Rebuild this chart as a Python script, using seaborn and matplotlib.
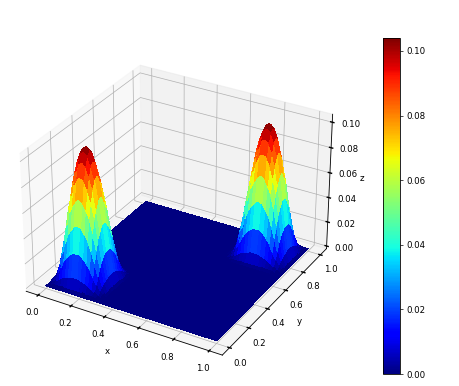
import numpy as np
import matplotlib
matplotlib.use("Agg")
import matplotlib.pyplot as plt
import seaborn as sns

# grid of the surface
n_points = 53
x_values = np.linspace(0, 1, n_points)
y_values = np.linspace(0, 1, n_points)

# height of one bump, in thousandths of z
bump_heights = [
    [0, 0, 1, 1, 1, 2, 2, 2, 2, 2, 2, 2, 1, 1, 1, 0, 0],
    [0, 1, 3, 5, 7, 8, 9, 10, 10, 10, 9, 8, 7, 5, 3, 1, 0],
    [1, 3, 8, 13, 19, 23, 26, 28, 28, 28, 26, 23, 19, 13, 8, 3, 1],
    [1, 5, 13, 23, 32, 40, 44, 48, 49, 48, 44, 40, 32, 23, 13, 5, 1],
    [1, 7, 19, 32, 45, 56, 62, 67, 69, 67, 62, 56, 45, 32, 19, 7, 1],
    [2, 8, 23, 40, 56, 68, 77, 83, 84, 83, 77, 68, 56, 40, 23, 8, 2],
    [2, 9, 26, 44, 62, 77, 86, 93, 95, 93, 86, 77, 62, 44, 26, 9, 2],
    [2, 10, 28, 48, 67, 83, 93, 100, 102, 100, 93, 83, 67, 48, 28, 10, 2],
    [2, 10, 28, 49, 69, 84, 95, 102, 104, 102, 95, 84, 69, 49, 28, 10, 2],
    [2, 10, 28, 48, 67, 83, 93, 100, 102, 100, 93, 83, 67, 48, 28, 10, 2],
    [2, 9, 26, 44, 62, 77, 86, 93, 95, 93, 86, 77, 62, 44, 26, 9, 2],
    [2, 8, 23, 40, 56, 68, 77, 83, 84, 83, 77, 68, 56, 40, 23, 8, 2],
    [1, 7, 19, 32, 45, 56, 62, 67, 69, 67, 62, 56, 45, 32, 19, 7, 1],
    [1, 5, 13, 23, 32, 40, 44, 48, 49, 48, 44, 40, 32, 23, 13, 5, 1],
    [1, 3, 8, 13, 19, 23, 26, 28, 28, 28, 26, 23, 19, 13, 8, 3, 1],
    [0, 1, 3, 5, 7, 8, 9, 10, 10, 10, 9, 8, 7, 5, 3, 1, 0],
    [0, 0, 1, 1, 1, 2, 2, 2, 2, 2, 2, 2, 1, 1, 1, 0, 0],
]

axis_ticks = [0.0, 0.2, 0.4, 0.6, 0.8, 1.0]
z_ticks = [0.00, 0.02, 0.04, 0.06, 0.08, 0.10]

sns.set_context("paper", rc={"xtick.labelsize": 6.2, "ytick.labelsize": 6.2, "axes.labelsize": 6.2})

bump = np.array(bump_heights) / 1000
size = bump.shape[0]
Z = np.zeros((n_points, n_points))
Z[1:size + 1, :size] = bump
Z[-size:, -size - 1:-1] = bump
X, Y = np.meshgrid(x_values, y_values)

fig = plt.figure(figsize=(4.59, 3.86), dpi=100)
ax = fig.add_axes([0.0, 0.002, 0.76, 0.92], projection="3d")
ax.set_box_aspect((4, 4, 2.8), zoom=0.985)
surf = ax.plot_surface(X, Y, Z, cmap="jet", rstride=1, cstride=1, linewidth=0,
                       antialiased=False, vmin=0, vmax=Z.max())

ax.set_xticks(axis_ticks)
ax.set_yticks(axis_ticks)
ax.set_zticks(z_ticks)
ax.set_xlabel("x", labelpad=-5.5)
ax.set_ylabel("y", labelpad=-6)
ax.set_zlabel("z", labelpad=-6.5)
ax.tick_params(axis="both", pad=-1, width=0.5, length=2)
ax.tick_params(axis="z", pad=0)

for axis in [ax.xaxis, ax.yaxis, ax.zaxis]:
    axis._axinfo["grid"]["linewidth"] = 0.5
    axis._axinfo["tick"]["inward_factor"] = 0.1
    axis._axinfo["tick"]["outward_factor"] = 0.1
    axis.line.set_linewidth(0.6)

cax = fig.add_axes([383 / 459, 1 - 374 / 386, 17 / 459, 336 / 386])
cbar = fig.colorbar(surf, cax=cax, ticks=z_ticks, format="%.2f")
cbar.ax.tick_params(labelsize=6.2, width=0.5, length=2.5, pad=2)
cbar.outline.set_linewidth(0.6)

fig.savefig("out.png", dpi=100)
